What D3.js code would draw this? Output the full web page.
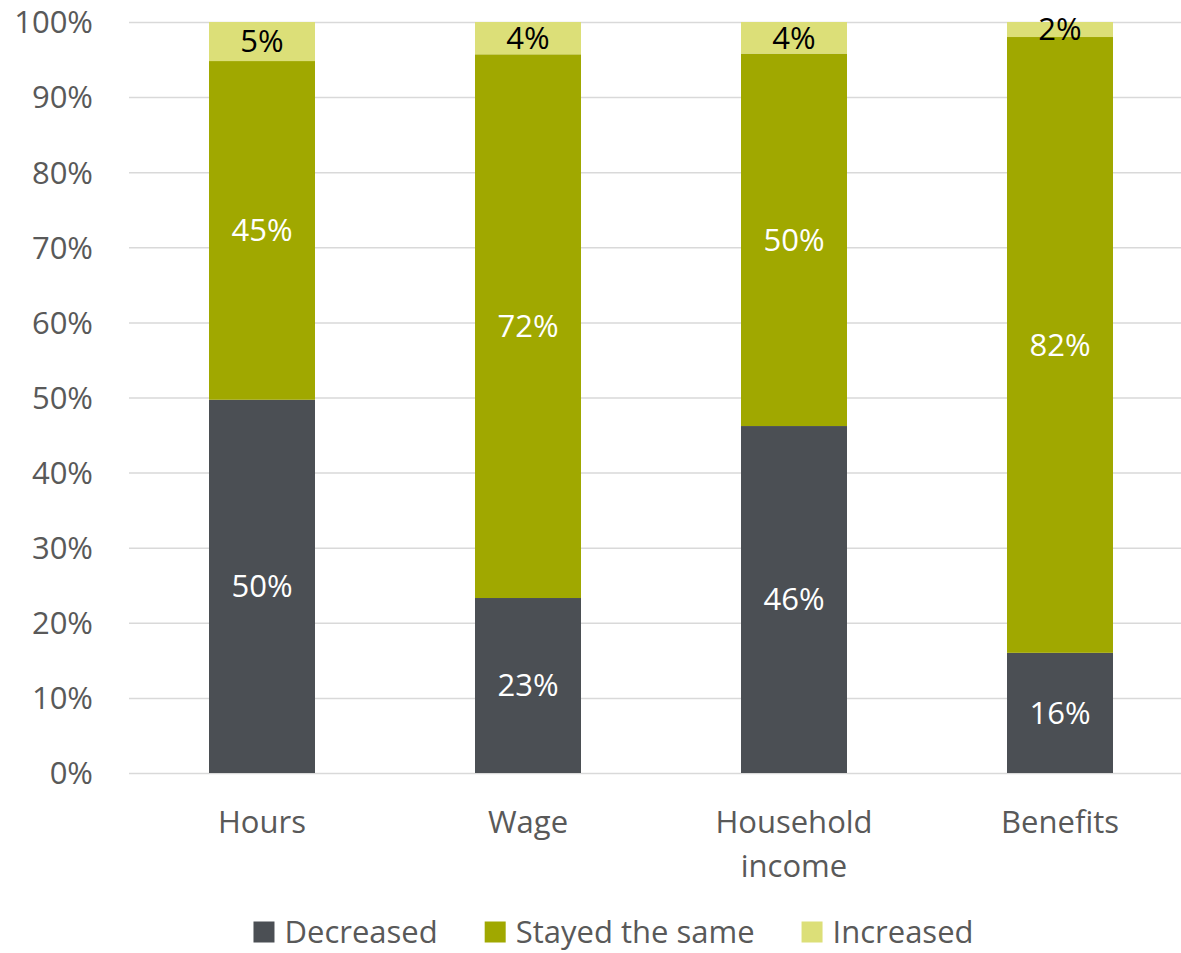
<!DOCTYPE html>
<html>
<head>
<meta charset="utf-8">
<script src="https://cdn.jsdelivr.net/npm/d3@7"></script>
<style>
  html, body { margin: 0; padding: 0; background: #fff; }
  svg { display: block; font-family: "Open Sans", "Liberation Sans", sans-serif; }
</style>
</head>
<body>
<svg id="chart" width="1181" height="953"></svg>
<script>
const categories = ["Hours", "Wage", "Household income", "Benefits"];
const categoryLines = [["Hours"], ["Wage"], ["Household", "income"], ["Benefits"]];
const seriesNames = ["Decreased", "Stayed the same", "Increased"];
const decreased = [49.7, 23.3, 46.2, 16.0];
const stayedSame = [45.1, 72.4, 49.6, 82.0];
const increased = [5.2, 4.3, 4.2, 2.0];
const labelDecreased = ["50%", "23%", "46%", "16%"];
const labelStayed = ["45%", "72%", "50%", "82%"];
const labelIncreased = ["5%", "4%", "4%", "2%"];
const yTicks = [0, 10, 20, 30, 40, 50, 60, 70, 80, 90, 100];

(function () {
const colors = ["#4B4F54", "#A0A800", "#DCDF78"];
const labelColors = ["#FFFFFF", "#FFFFFF", "#000000"];
const textGray = "#595959";
const fontSize = 31;

const svg = d3.select("#chart");
const mLeft = 129, mRight = 1193, mTop = 22, mBottom = 773;

const x = d3.scaleBand().domain(categories).range([mLeft, mRight]).paddingInner(0.6015).paddingOuter(0.30075);
const y = d3.scaleLinear().domain([0, 100]).range([mBottom, mTop]);

// gridlines + y labels
const yAxis = d3.axisLeft(y).tickValues(yTicks).tickFormat(d => d + "%").tickSize(-(mRight - mLeft)).tickPadding(36);
const gy = svg.append("g").attr("transform", `translate(${mLeft},0)`).call(yAxis);
gy.select(".domain").remove();
gy.selectAll(".tick line").attr("stroke", "#D9D9D9").attr("stroke-width", 1.5);
gy.selectAll(".tick text").attr("fill", textGray).attr("font-size", fontSize).attr("dy", "0.35em")
  .style("font-family", '"Open Sans", sans-serif');

// stacked data
const rows = categories.map((c, i) => ({ cat: c, d: decreased[i], s: stayedSame[i], n: increased[i] }));
const stacked = d3.stack().keys(["d", "s", "n"])(rows);
const labelsBySeries = [labelDecreased, labelStayed, labelIncreased];

stacked.forEach((layer, li) => {
  const g = svg.append("g");
  g.selectAll("rect").data(layer).enter().append("rect")
    .attr("x", d => x(d.data.cat))
    .attr("width", x.bandwidth())
    .attr("y", d => y(d[1]))
    .attr("height", d => y(d[0]) - y(d[1]))
    .attr("fill", colors[li]);
  g.selectAll("text").data(layer).enter().append("text")
    .attr("x", d => x(d.data.cat) + x.bandwidth() / 2)
    .attr("y", d => (y(d[0]) + y(d[1])) / 2)
    .attr("dy", "0.35em")
    .attr("text-anchor", "middle")
    .attr("font-size", fontSize)
    .attr("fill", labelColors[li])
    .text((d, i) => labelsBySeries[li][i]);
});

// x category labels
const gx = svg.append("g");
categories.forEach((c, i) => {
  const cxp = x(c) + x.bandwidth() / 2;
  const t = gx.append("text")
    .attr("x", cxp)
    .attr("y", 822)
    .attr("text-anchor", "middle")
    .attr("font-size", fontSize)
    .attr("fill", textGray);
  categoryLines[i].forEach((line, j) => {
    t.append("tspan").attr("x", cxp).attr("dy", j === 0 ? "0.35em" : 44).text(line);
  });
});

// legend
const legend = svg.append("g");
const sq = 21, gapSq = 10, gapItem = 47;
const items = [];
seriesNames.forEach((name, i) => {
  const g = legend.append("g");
  g.append("rect").attr("x", 0).attr("y", -sq / 2 + 3).attr("width", sq).attr("height", sq).attr("fill", colors[i]);
  const t = g.append("text").attr("x", sq + gapSq).attr("dy", "0.45em").attr("font-size", fontSize)
    .attr("fill", textGray).text(name);
  const w = sq + gapSq + t.node().getComputedTextLength();
  items.push({ g, w });
});
const totalW = d3.sum(items, d => d.w) + gapItem * (items.length - 1);
let startX = 613.5 - totalW / 2;
items.forEach(it => {
  it.g.attr("transform", `translate(${startX},929)`);
  startX += it.w + gapItem;
});
})();
</script>
</body>
</html>
